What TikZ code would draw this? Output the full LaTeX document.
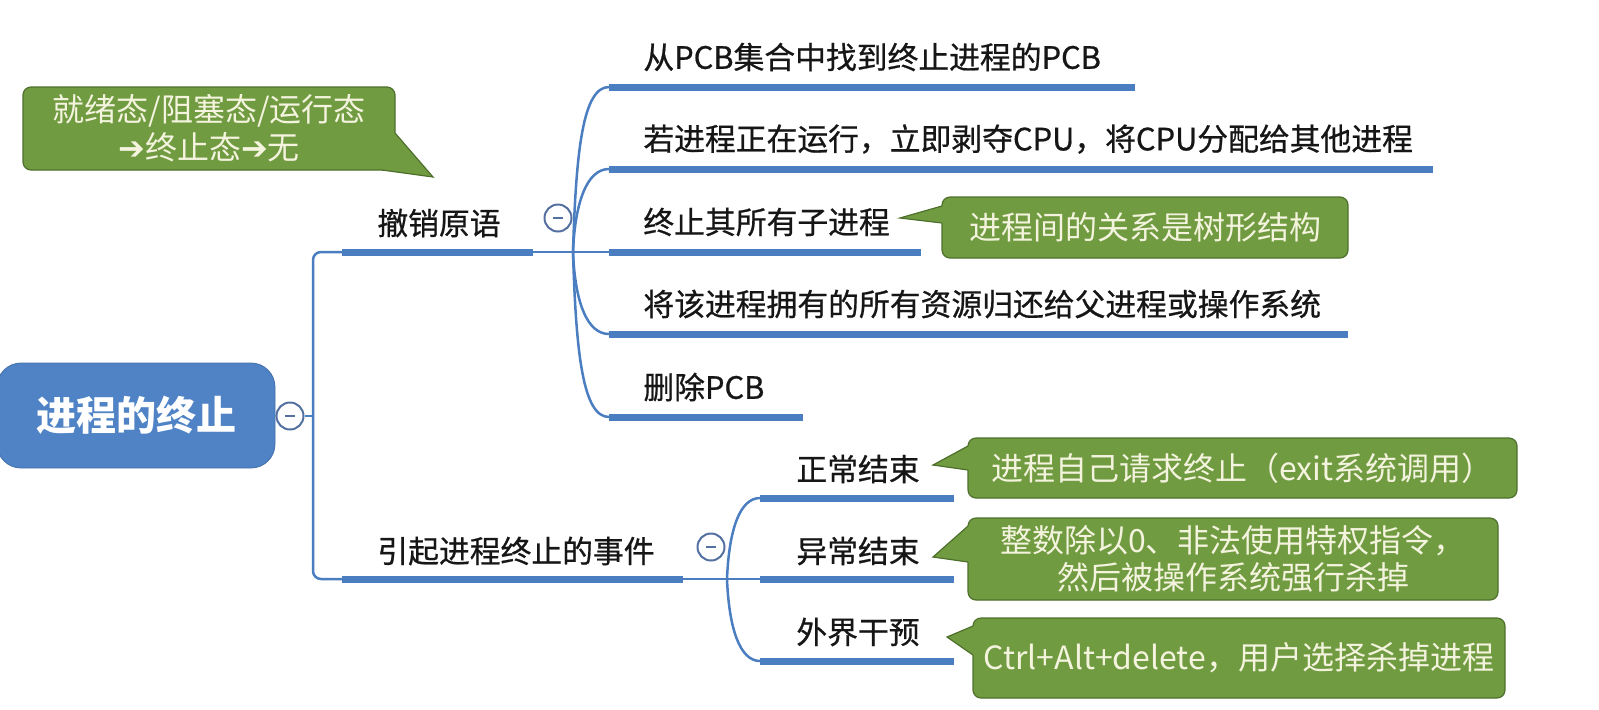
\documentclass[tikz,border=0pt]{standalone}
\usepackage{fontspec}
\setmainfont{Noto Sans CJK SC}
\newfontfamily\topicfont{Noto Sans CJK SC}[FakeBold=0.7]
\newfontfamily\arrowfont{DejaVu Sans}

\definecolor{linkblue}{RGB}{74,126,192}
\definecolor{rootblue}{RGB}{79,131,198}
\definecolor{foldblue}{RGB}{84,112,160}
\definecolor{notefill}{RGB}{112,155,64}
\definecolor{noteline}{RGB}{78,112,44}
\definecolor{notetext}{RGB}{243,243,222}
\definecolor{ink}{RGB}{22,22,22}

\begin{document}
\begin{tikzpicture}
	[x=0.5pt,y=-0.5pt%
	,every node/.style={inner sep=0pt,%
		font=\fontsize{16pt}{19pt}\selectfont}%
	,topic/.style={anchor=west,%
		text=ink,%
		font=\fontsize{15.4pt}{19pt}\selectfont\topicfont}%
	,rootbox/.style={rectangle,%
		rounded corners=12pt,%
		fill=rootblue,%
		draw=rootblue!85!black,%
		minimum width=139pt,%
		minimum height=52.5pt,%
		text=white,%
		font=\fontsize{20pt}{24pt}\selectfont\bfseries}%
	,link/.style={draw=linkblue,line width=1.25pt}%
	,bar/.style={draw=linkblue,line width=3.5pt}%
	,fold/.style={circle,%
		draw=foldblue,%
		fill=white,%
		line width=1pt,%
		minimum size=13.5pt,%
		path picture={\draw[foldblue,line width=1pt]
			([xshift=-2.6pt]path picture bounding box.center) --
			([xshift=2.6pt]path picture bounding box.center);}}%
	,note/.style={rectangle,%
		rounded corners=4pt,%
		fill=notefill,%
		draw=noteline,%
		line width=0.6pt,%
		text=notetext,%
		align=center}%
	,tip/.style={draw=noteline,line width=0.6pt}]
	\useasboundingbox (0,0) rectangle (1599,709);

	\node[rootbox] (root) at (136,415.5) {进程的终止};
	\node[fold] (fold0) at (290,416) {};
	\coordinate (rootj) at (313,416);

	\node[topic] (destroy) at (377,223) {撤销原语};
	\coordinate (destroya) at (342,252);
	\coordinate (destroyb) at (533,252);
	\node[topic] (cause) at (377,551) {引起进程终止的事件};
	\coordinate (causea) at (342,579);
	\coordinate (causeb) at (683,579);

	\draw[link] (root.east) -- (fold0.west);
	\draw[link] (fold0.east) -- (rootj);
	\draw[link,rounded corners=4pt] (destroya) -| (rootj) |- (causea);
	\draw[bar] (destroya) -- (destroyb);
	\draw[bar] (causea) -- (causeb);

	% 撤销原语
	\node[fold] (fold1) at (558,218) {};
	\coordinate (j1) at (573,252);
	\node[topic] (d1) at (643,57) {从PCB集合中找到终止进程的PCB};
	\node[topic] (d2) at (643,139) {若进程正在运行，立即剥夺CPU，将CPU分配给其他进程};
	\node[topic] (d3) at (643,222) {终止其所有子进程};
	\node[topic] (d4) at (643,304) {将该进程拥有的所有资源归还给父进程或操作系统};
	\node[topic] (d5) at (643,387) {删除PCB};
	\coordinate (d1a) at (609,87);   \coordinate (d1b) at (1135,87);
	\coordinate (d2a) at (609,169);  \coordinate (d2b) at (1433,169);
	\coordinate (d3a) at (609,252);  \coordinate (d3b) at (921,252);
	\coordinate (d4a) at (609,334);  \coordinate (d4b) at (1348,334);
	\coordinate (d5a) at (609,417);  \coordinate (d5b) at (803,417);

	\draw[link] (destroyb) -- (d3a);
	\draw[link] (j1) .. controls +(3,-102) and +(-26,0) .. (d1a);
	\draw[link] (j1) .. controls +(2,-50) and +(-22,0) .. (d2a);
	\draw[link] (j1) .. controls +(2,50) and +(-22,0) .. (d4a);
	\draw[link] (j1) .. controls +(3,102) and +(-26,0) .. (d5a);
	\draw[bar] (d1a) -- (d1b);
	\draw[bar] (d2a) -- (d2b);
	\draw[bar] (d3a) -- (d3b);
	\draw[bar] (d4a) -- (d4b);
	\draw[bar] (d5a) -- (d5b);

	% 引起进程终止的事件
	\node[fold] (fold2) at (711,547) {};
	\coordinate (j2) at (727,579);
	\node[topic] (e1) at (796,469) {正常结束};
	\node[topic] (e2) at (796,551) {异常结束};
	\node[topic] (e3) at (796,632) {外界干预};
	\coordinate (e1a) at (760,498);  \coordinate (e1b) at (954,498);
	\coordinate (e2a) at (760,579);  \coordinate (e2b) at (954,579);
	\coordinate (e3a) at (760,661);  \coordinate (e3b) at (954,661);

	\draw[link] (causeb) -- (e2a);
	\draw[link] (j2) .. controls +(2,-50) and +(-20,0) .. (e1a);
	\draw[link] (j2) .. controls +(2,50) and +(-20,0) .. (e3a);
	\draw[bar] (e1a) -- (e1b);
	\draw[bar] (e2a) -- (e2b);
	\draw[bar] (e3a) -- (e3b);

	% notes
	\node[note,minimum width=186pt,minimum height=41.5pt] (n0) at (209,128.5)
		{就绪态/阻塞态/运行态\\{\arrowfont\bfseries ➔}终止态{\arrowfont\bfseries ➔}无};
	\coordinate (n0tip) at (433,177);
	\fill[notefill] (395,133) -- (n0tip) -- (382,170) -- (382,166) -- (391,166) -- (391,133) -- cycle;
	\draw[tip] (395,133) -- (n0tip) -- (382,170);

	\node[note,minimum width=203pt,minimum height=30.5pt] (n1) at (1145,227.5) {进程间的关系是树形结构};
	\coordinate (n1tip) at (900,218);
	\fill[notefill] (942,206) -- (n1tip) -- (942,223) -- (945,223) -- (945,206) -- cycle;
	\draw[tip] (942,206) -- (n1tip) -- (942,223);

	\node[note,minimum width=274.5pt,minimum height=30pt] (n2) at (1242.5,468) {进程自己请求终止（exit系统调用）};
	\coordinate (n2tip) at (933,465);
	\fill[notefill] (968,446) -- (n2tip) -- (968,470) -- (971,470) -- (971,446) -- cycle;
	\draw[tip] (968,446) -- (n2tip) -- (968,470);

	\node[note,minimum width=265pt,minimum height=41pt,
		font=\fontsize{16pt}{18.5pt}\selectfont] (n3) at (1233,559)
		{整数除以0、非法使用特权指令，\\然后被操作系统强行杀掉};
	\coordinate (n3tip) at (933,557);
	\fill[notefill] (968,526) -- (n3tip) -- (968,562) -- (971,562) -- (971,526) -- cycle;
	\draw[tip] (968,526) -- (n3tip) -- (968,562);

	\node[note,minimum width=266pt,minimum height=40pt] (n4) at (1239,658) {Ctrl+Alt+delete，用户选择杀掉进程};
	\coordinate (n4tip) at (947,637);
	\fill[notefill] (973,626) -- (n4tip) -- (973,655) -- (976,655) -- (976,626) -- cycle;
	\draw[tip] (973,626) -- (n4tip) -- (973,655);
\end{tikzpicture}
\end{document}
